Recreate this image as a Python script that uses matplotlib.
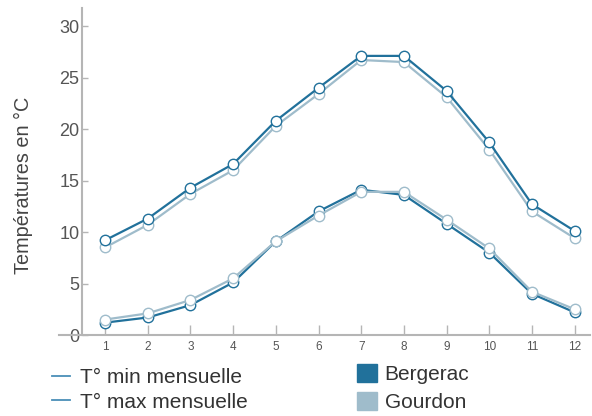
import matplotlib.pyplot as plt
from matplotlib.lines import Line2D
from matplotlib.patches import Patch

plt.rcParams['font.family'] = ['Liberation Sans', 'DejaVu Sans']

# données (°C)
mois = [1, 2, 3, 4, 5, 6, 7, 8, 9, 10, 11, 12]
bergerac_max = [9.2, 11.3, 14.3, 16.6, 20.8, 24.0, 27.1, 27.1, 23.7, 18.7, 12.7, 10.1]
gourdon_max = [8.5, 10.7, 13.7, 16.0, 20.3, 23.4, 26.7, 26.5, 23.1, 18.0, 12.0, 9.4]
bergerac_min = [1.2, 1.7, 2.9, 5.1, 9.1, 12.0, 14.1, 13.6, 10.8, 8.0, 4.0, 2.2]
gourdon_min = [1.5, 2.1, 3.4, 5.5, 9.1, 11.6, 13.9, 13.9, 11.2, 8.4, 4.2, 2.5]
y_ticks = [0, 5, 10, 15, 20, 25, 30]

C_BERG = '#21719b'
C_GOUR = '#9fbccb'
C_AXE = '#b5b5b5'

fig = plt.figure(figsize=(5.92, 4.16), dpi=100)
ax = fig.add_axes([59 / 592, 81 / 416, 531 / 592, 327 / 416])

for serie, col, z in [(gourdon_max, C_GOUR, 2), (bergerac_max, C_BERG, 3),
                      (bergerac_min, C_BERG, 2), (gourdon_min, C_GOUR, 3)]:
    ax.plot(mois, serie, color=col, lw=1.6, marker='o', ms=7.5,
            mfc='white', mec=col, mew=1.0, zorder=z)

ax.set_xlim(-0.08, 12.36)
ax.set_ylim(0, 31.75)
ax.set_xticks(mois)
ax.set_yticks(y_ticks)

for s in ['top', 'right']:
    ax.spines[s].set_visible(False)
ax.spines['left'].set_position(('data', 0.46))
ax.spines['left'].set_color(C_AXE)
ax.spines['bottom'].set_color(C_AXE)
ax.spines['left'].set_linewidth(1.5)
ax.spines['bottom'].set_linewidth(1.5)

ax.tick_params(axis='x', direction='in', length=7, color=C_AXE, width=1,
               labelsize=8.5, labelcolor='#555555', pad=4)
ax.tick_params(axis='y', direction='in', length=4, color=C_AXE, width=1,
               labelsize=13, labelcolor='#555555', pad=2)

fig.text(23 / 592, 1 - 185 / 416, 'Températures en °C', rotation=90,
         ha='center', va='center', fontsize=14.3, color='#444444')

# légendes
h_lignes = [Line2D([], [], color='#4a8fb8', lw=1.3),
            Line2D([], [], color='#4a8fb8', lw=1.3)]
fig.legend(h_lignes, ['T° min mensuelle', 'T° max mensuelle'],
           loc='center left', bbox_to_anchor=(52 / 592, 1 - 390 / 416),
           frameon=False, fontsize=15, handlelength=0.87, borderpad=0,
           borderaxespad=0, handletextpad=0.48, labelspacing=0.25,
           labelcolor='#333333')
h_villes = [Patch(color=C_BERG), Patch(color=C_GOUR)]
fig.legend(h_villes, ['Bergerac', 'Gourdon'],
           loc='center left', bbox_to_anchor=(357 / 592, 1 - 388 / 416),
           frameon=False, fontsize=15, handlelength=0.95, handleheight=0.95,
           borderpad=0, borderaxespad=0, handletextpad=0.38,
           labelspacing=0.4, labelcolor='#333333')

fig.savefig('out.png', dpi=100)
